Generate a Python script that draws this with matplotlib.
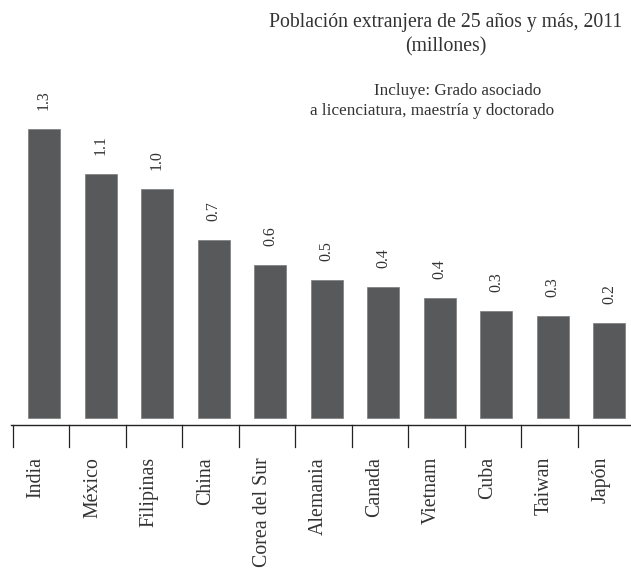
import matplotlib
matplotlib.use("Agg")
import matplotlib.pyplot as plt

# datos
paises = ['India', 'México', 'Filipinas', 'China', 'Corea del Sur', 'Alemania',
          'Canada', 'Vietnam', 'Cuba', 'Taiwan', 'Japón']
alturas = [1.30, 1.10, 1.03, 0.80, 0.69, 0.62, 0.59, 0.54, 0.48, 0.46, 0.43]
etiquetas = ['1.3', '1.1', '1.0', '0.7', '0.6', '0.5', '0.4', '0.4', '0.3', '0.3', '0.2']

BAR = '#58595b'
TXT = '#333333'
FONT = 'Liberation Serif'

W, H = 631, 570
fig = plt.figure(figsize=(W / 100, H / 100), dpi=100)
fig.patch.set_facecolor('white')

# ejes que ocupan toda la figura; 1 unidad en x = 56.5 px, 1 unidad en y = 222 px
ax = fig.add_axes([0, 0, 1, 1])
px_x, px_y = 56.5, 222.0
x0, base = 44, 418
ax.set_xlim(-x0 / px_x, (W - x0) / px_x)
ax.set_ylim(-(H - base) / px_y, base / px_y)
ax.axis('off')

xs = list(range(len(paises)))
ax.bar(xs, alturas, width=32 / px_x, color=BAR, edgecolor='#7a7b7d',
       linewidth=0.5, zorder=2)

# etiquetas de valor sobre las barras
for x, h, lab in zip(xs, alturas, etiquetas):
    ax.text(x, h + 19 / px_y, lab, rotation=90, ha='center', va='bottom',
            fontsize=11.5, color=TXT, family=FONT)

# eje inferior con marcas
y_eje = -7 / px_y
ax.plot([-0.58, ax.get_xlim()[1]], [y_eje, y_eje], color='#222222', lw=1.0,
        clip_on=False, zorder=3)
for x in xs:
    ax.plot([x - 0.55, x - 0.55], [y_eje, -29 / px_y], color='#222222', lw=0.9)

# nombres de países
for x, p in zip(xs, paises):
    ax.text(x - 0.14, -39 / px_y, p, rotation=90, ha='center', va='top',
            fontsize=14.3, color=TXT, family=FONT)

# títulos
fig.text(446 / W, 1 - 22 / H, 'Población extranjera de 25 años y más, 2011',
         ha='center', va='center', fontsize=14.2, color=TXT, family=FONT)
fig.text(446 / W, 1 - 47 / H, '(millones)', ha='center', va='center',
         fontsize=14.2, color=TXT, family=FONT)
fig.text(458 / W, 1 - 91 / H, 'Incluye: Grado asociado', ha='center',
         va='center', fontsize=12.3, color=TXT, family=FONT)
fig.text(432 / W, 1 - 111 / H, 'a licenciatura, maestría y doctorado',
         ha='center', va='center', fontsize=12.3, color=TXT, family=FONT)

fig.savefig('out.png', dpi=100, facecolor='white')
